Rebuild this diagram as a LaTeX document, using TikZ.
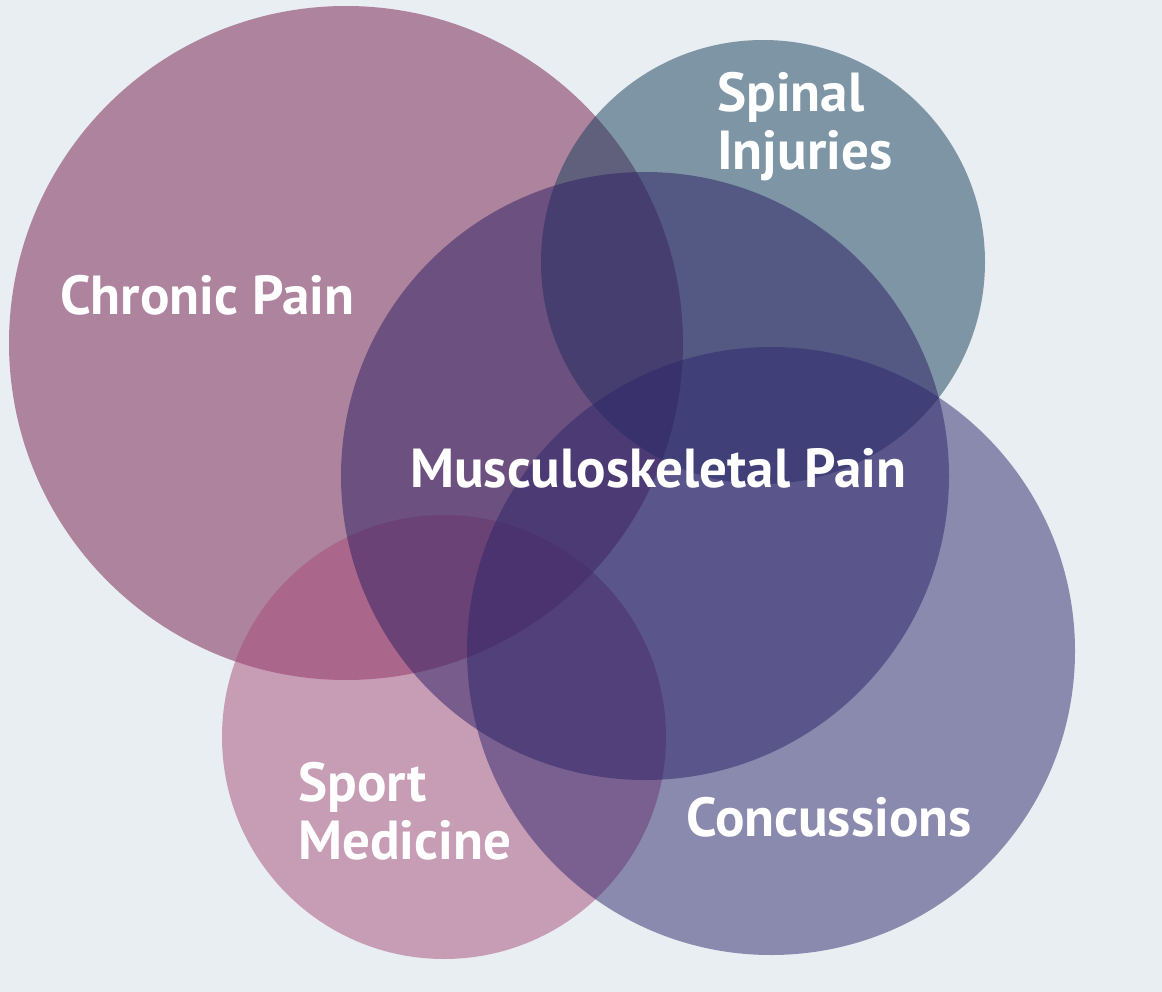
\documentclass[tikz,border=0pt]{standalone}
\usepackage{fontspec}
\setmainfont{PT Sans}
\usepackage{tikz}
\usetikzlibrary{positioning}

\definecolor{bgcol}{RGB}{233,238,242}
\definecolor{chroniccol}{RGB}{117,26,76}
\definecolor{spinalcol}{RGB}{21,62,92}
\definecolor{sportcol}{RGB}{167,76,122}
\definecolor{musculocol}{RGB}{43,30,98}
\definecolor{concusscol}{RGB}{45,38,108}

\begin{document}
\begin{tikzpicture}[
    x=1pt,y=-1pt,
    bubble/.style={circle, draw=none, fill opacity=0.5, inner sep=0pt},
    bubbletext/.style={anchor=west, inner sep=0pt, align=left, text=white, font=\fontsize{55}{58}\selectfont\bfseries}
]

    % --- Background ---
    \fill[bgcol] (0,0) rectangle (1162,992);
    \useasboundingbox (0,0) rectangle (1162,992);

    % --- Circles ---
    \node[bubble, fill=chroniccol, minimum size=674pt] (chronic) at (346,343) {};
    \node[bubble, fill=spinalcol, minimum size=444pt] (spinal) at (763,262) {};
    \node[bubble, fill=sportcol, minimum size=444pt] (sport) at (444,737) {};
    \node[bubble, fill=musculocol, minimum size=608pt] (musculo) at (645,476) {};
    \node[bubble, fill=concusscol, minimum size=608pt] (concuss) at (771,651) {};

    % --- Labels ---
    \node[bubbletext] (chroniclbl) at (60,295) {Chronic Pain};
    \node[bubbletext] (spinallbl) at (717,127) {Spinal\\Injuries};
    \node[bubbletext] (musculolbl) at (410,468) {Musculoskeletal Pain};
    \node[bubbletext] (sportlbl) at (298,811) {Sport\\Medicine};
    \node[bubbletext] (concusslbl) at (686,817) {Concussions};

\end{tikzpicture}
\end{document}
